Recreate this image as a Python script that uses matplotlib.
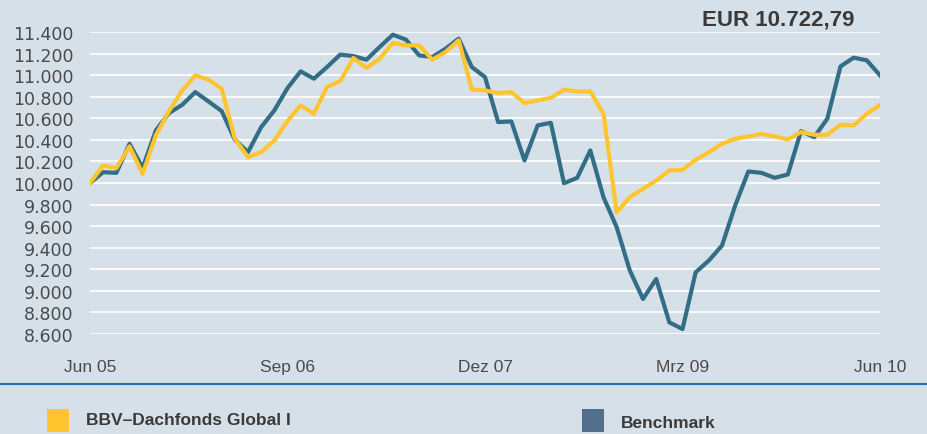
import matplotlib
matplotlib.use('Agg')
import matplotlib.pyplot as plt
from matplotlib.patches import Rectangle
from matplotlib.lines import Line2D

# monthly values, Jun 05 .. Jun 10 (61 points)
fund = [10000, 10162, 10138, 10339, 10085, 10441, 10667, 10858, 10998, 10958,
        10874, 10410, 10240, 10286, 10394, 10575, 10719, 10642, 10889, 10945,
        11159, 11066, 11152, 11298, 11276, 11276, 11143, 11214, 11323, 10868,
        10858, 10834, 10843, 10741, 10766, 10790, 10865, 10849, 10849, 10642,
        9729, 9868, 9946, 10023, 10116, 10122, 10215, 10286, 10363, 10410,
        10432, 10456, 10432, 10404, 10472, 10447, 10447, 10540, 10534, 10642,
        10722.79]
bench = [10000, 10100, 10094, 10363, 10141, 10487, 10648, 10725, 10843, 10756,
         10667, 10401, 10286, 10518, 10673, 10880, 11035, 10967, 11075, 11190,
         11177, 11143, 11261, 11375, 11329, 11183, 11168, 11245, 11338, 11075,
         10982, 10565, 10571, 10209, 10534, 10558, 9998, 10048, 10302, 9868,
         9590, 9188, 8925, 9110, 8708, 8646, 9172, 9281, 9420, 9791,
         10107, 10094, 10048, 10079, 10481, 10425, 10596, 11081, 11162, 11137,
         10998]
tick_pos = [0, 15, 30, 45, 60]
tick_labels = ['Jun 05', 'Sep 06', 'Dez 07', 'Mrz 09', 'Jun 10']
y_ticks = list(range(8600, 11401, 200))
y_labels = [f'{v:,}'.replace(',', '.') for v in y_ticks]
series_names = ['BBV\u2013Dachfonds Global I', 'Benchmark']
title = 'EUR 10.722,79'

bg = '#d6e0e8'
yellow = '#fec52e'
blue = '#336e87'
narrow = ['Liberation Sans', 'DejaVu Sans']

fig = plt.figure(figsize=(9.27, 4.35), dpi=100, facecolor=bg)
ax = fig.add_axes([90 / 927, 1 - 335 / 435, 790 / 927, 302 / 435])
ax.set_facecolor(bg)

x = list(range(len(fund)))
ax.plot(x, fund, color=yellow, lw=3, solid_joinstyle='round', zorder=3)
ax.plot(x, bench, color=blue, lw=3, solid_joinstyle='round', zorder=2)

ax.set_xlim(0, 60)
ax.set_ylim(8600, 11400)
ax.set_yticks(y_ticks)
ax.set_yticklabels(y_labels, fontsize=12.5, color='#4a4a4a')
ax.set_xticks(tick_pos)
ax.set_xticklabels(tick_labels, fontsize=12.5, color='#4a4a4a', family=narrow)
ax.tick_params(axis='y', length=0, pad=12)
ax.tick_params(axis='x', length=0, pad=18)
ax.grid(axis='y', color='white', lw=1.2)
ax.set_axisbelow(True)
for s in ax.spines.values():
    s.set_visible(False)

fig.text(855 / 927, 1 - 20 / 435, title, ha='right', va='center',
         fontsize=16, fontweight='bold', color='#3a3a3a', family=narrow)

# separator and legend
fig.add_artist(Line2D([0, 1], [1 - 385 / 435] * 2, color='#1f6fb5', lw=1.5))
fig.add_artist(Rectangle((47 / 927, 1 - 433 / 435), 22 / 927, 23 / 435,
                         color=yellow, lw=0))
fig.add_artist(Rectangle((582 / 927, 1 - 433 / 435), 22 / 927, 23 / 435,
                         color='#52708d', lw=0))
fig.text(86 / 927, 1 - 421 / 435, series_names[0], ha='left', va='center',
         fontsize=12.5, fontweight='bold', color='#3a3a3a', family=narrow)
fig.text(621 / 927, 1 - 424 / 435, series_names[1], ha='left', va='center',
         fontsize=12.5, fontweight='bold', color='#3a3a3a', family=narrow)

fig.savefig('out.png', dpi=100, facecolor=bg)
